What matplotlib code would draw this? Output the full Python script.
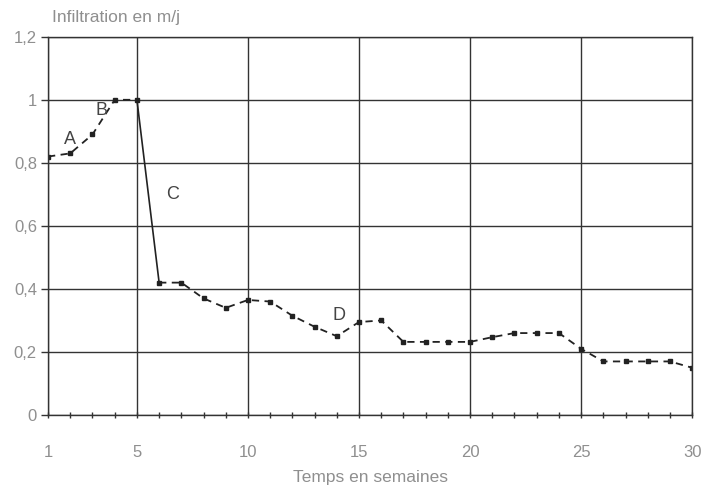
import matplotlib
matplotlib.use("Agg")
import matplotlib.pyplot as plt

plt.rcParams["font.family"] = ["Liberation Sans", "DejaVu Sans"]

# Infiltration rate over time (weeks)
weeks = list(range(1, 31))
infiltration = [0.82, 0.83, 0.89, 1.00, 1.00, 0.42, 0.42, 0.37, 0.34, 0.365,
                0.36, 0.315, 0.28, 0.25, 0.295, 0.30, 0.232, 0.232, 0.232, 0.232,
                0.247, 0.26, 0.26, 0.26, 0.21, 0.17, 0.17, 0.17, 0.17, 0.15]

x_ticks = [1, 5, 10, 15, 20, 25, 30]
y_ticks = [0, 0.2, 0.4, 0.6, 0.8, 1.0, 1.2]
y_labels = ["0", "0,2", "0,4", "0,6", "0,8", "1", "1,2"]

# phase labels and where they sit
phase_names = ["A", "B", "C", "D"]
phase_x = [2.0, 3.4, 6.6, 14.1]
phase_y = [0.875, 0.965, 0.70, 0.316]

text_grey = "#8f8f8f"
line_col = "#333333"

fig = plt.figure(figsize=(7.07, 4.90), dpi=100)
ax = fig.add_axes([0.068, 0.153, 0.911, 0.772])

ax.set_xlim(1, 30)
ax.set_ylim(0, 1.2)

# grid
ax.set_xticks(x_ticks)
ax.set_yticks(y_ticks)
ax.set_yticklabels(y_labels)
ax.set_xticks(weeks, minor=True)
ax.grid(True, which="major", color=line_col, linewidth=1.0)
for s in ax.spines.values():
    s.set_color(line_col)
    s.set_linewidth(1.0)

ax.tick_params(axis="y", direction="out", length=5, width=1, color=line_col,
               labelcolor=text_grey, labelsize=12, pad=3)
ax.tick_params(axis="x", which="both", direction="inout", length=5, width=1,
               color=line_col, labelcolor=text_grey, labelsize=12, pad=19)

# curve: dashed everywhere except the sharp drop C (weeks 5 -> 6)
ax.plot(weeks[:5], infiltration[:5], color="#222222", linestyle=(0, (4, 3)),
        linewidth=1.3, marker="s", markersize=3.5)
ax.plot(weeks[4:6], infiltration[4:6], color="#222222", linestyle="-",
        linewidth=1.2)
ax.plot(weeks[5:], infiltration[5:], color="#222222", linestyle=(0, (4, 3)),
        linewidth=1.3, marker="s", markersize=3.5)

for name, px, py in zip(phase_names, phase_x, phase_y):
    ax.text(px, py, name, fontsize=13, color="#444444", ha="center", va="center")

fig.text(0.074, 0.965, "Infiltration en m/j", fontsize=12.5, color=text_grey,
         ha="left", va="center")
ax.set_xlabel("Temps en semaines", fontsize=12.5, color=text_grey, labelpad=7)

fig.savefig("out.png", dpi=100)
